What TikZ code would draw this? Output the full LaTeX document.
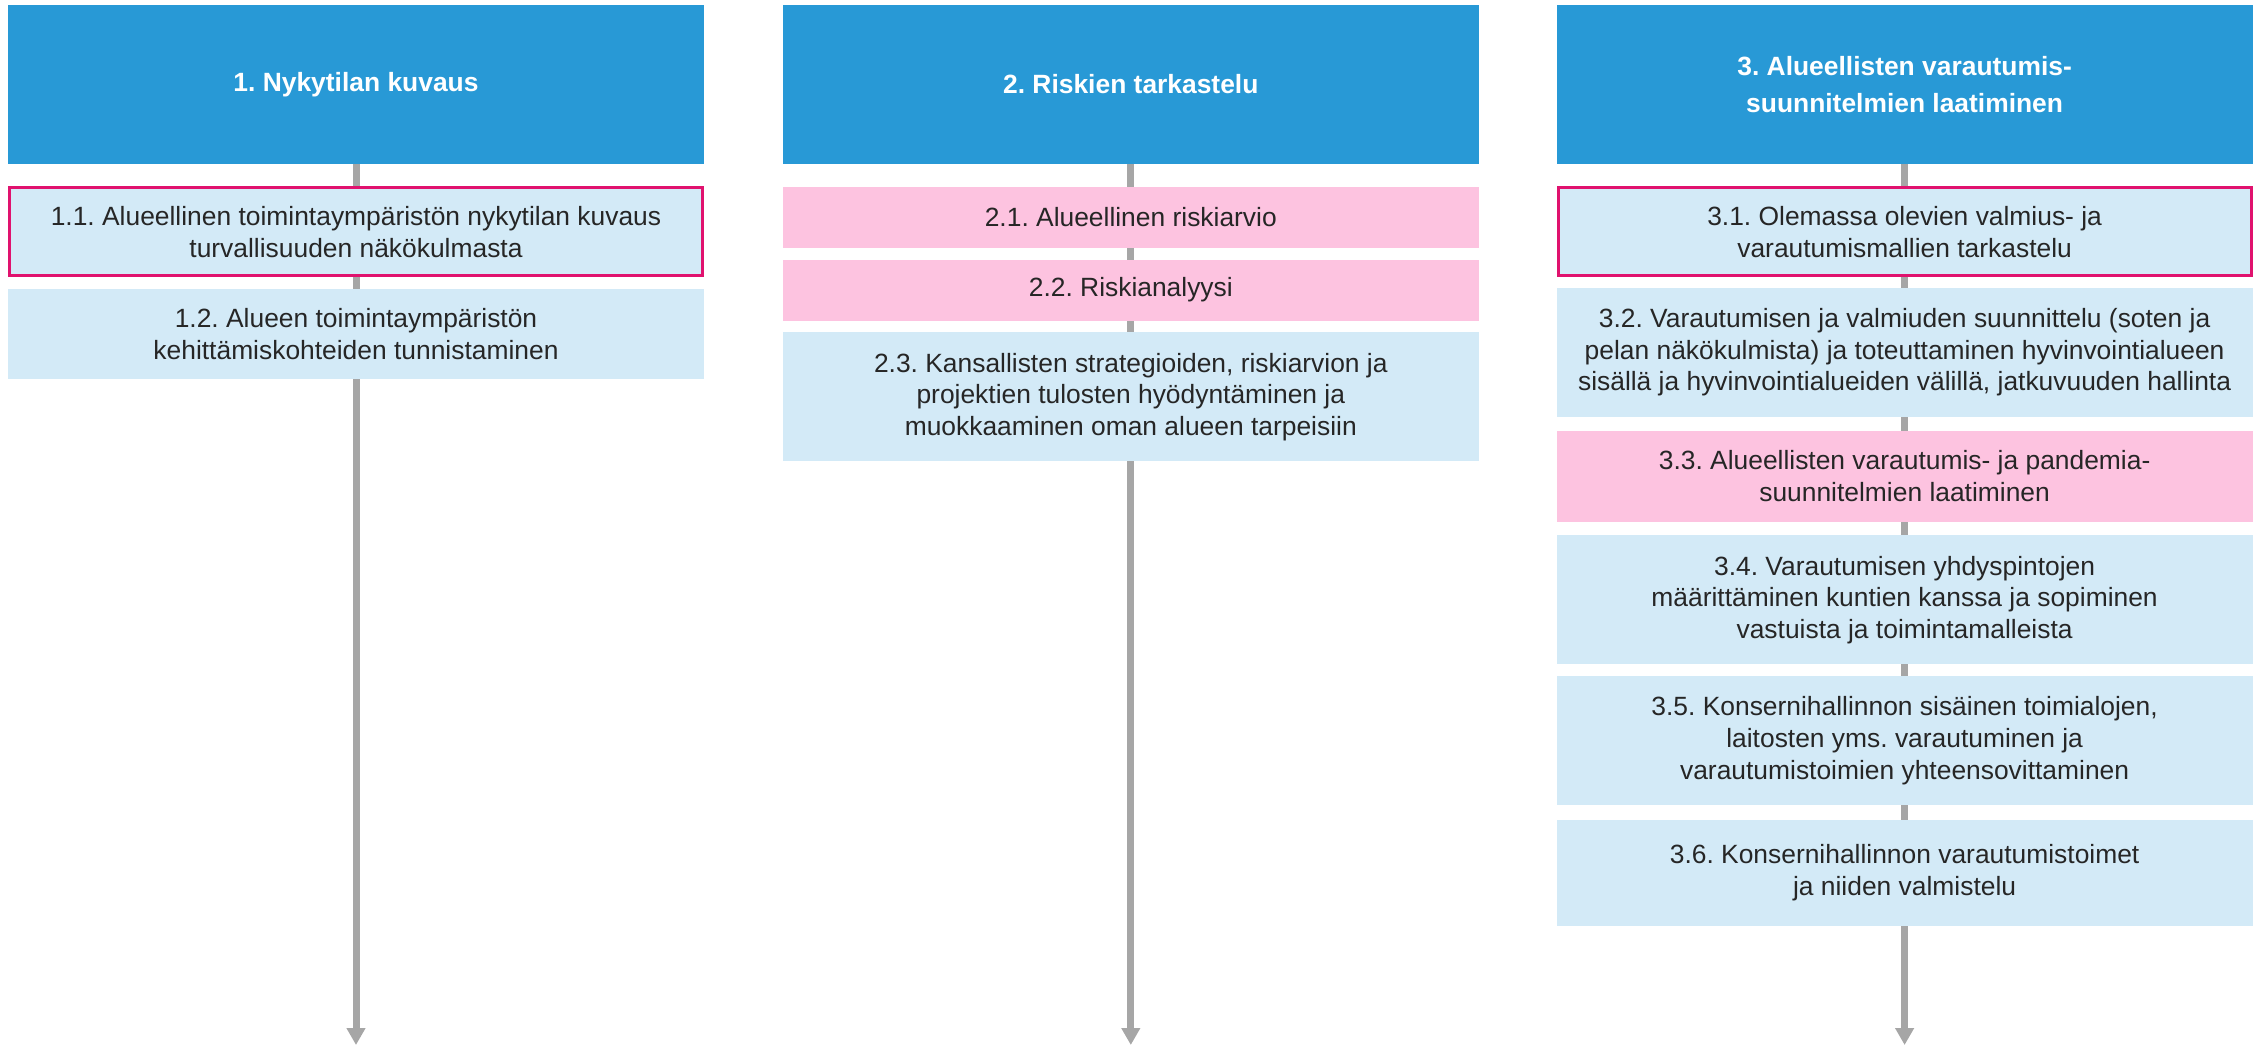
\documentclass[tikz,border=0pt]{standalone}
\usepackage{fontspec}
\setmainfont{Liberation Sans}
\frenchspacing
\usetikzlibrary{positioning,arrows.meta,backgrounds}
\definecolor{headblue}{HTML}{2899D6}
\definecolor{stepblue}{HTML}{D3EAF7}
\definecolor{steppink}{HTML}{FDC3E0}
\definecolor{edgepink}{HTML}{E0126E}
\definecolor{flowgray}{HTML}{A6A6A6}
\definecolor{textgray}{HTML}{262626}

\begin{document}
\begin{tikzpicture}[
    x=0.5pt, y=-0.5pt,
    headnode/.style={rectangle, fill=headblue, text=white, minimum width=348pt, minimum height=79.5pt, inner sep=0pt, align=center, font=\fontsize{13.2}{18.3}\selectfont\bfseries},
    boxnode/.style={rectangle, fill=stepblue, text=textgray, minimum width=348pt, inner sep=0pt, align=center, font=\fontsize{13.2}{15.85}\selectfont},
    pinknode/.style={boxnode, fill=steppink},
    marknode/.style={boxnode, draw=edgepink, line width=1.5pt, minimum width=346.5pt},
    flow/.style={-{Triangle[width=9pt,length=8.5pt]}, draw=flowgray, line width=3.5pt}
    ]
        \useasboundingbox (0,0) rectangle (2254,1045);

        %Headers
        \node[headnode]
            (h1)    at (356,84.5)       {1. Nykytilan kuvaus};
        \node[headnode]
            (h2)    [right=39pt of h1]  {2. Riskien tarkastelu};
        \node[headnode]
            (h3)    [right=38.5pt of h2] {3. Alueellisten varautumis-\\suunnitelmien laatiminen};

        %Column 1
        \node[marknode, minimum height=44pt]
            (b11)   [below=11pt of h1]  {1.1. Alueellinen toimintaympäristön nykytilan kuvaus\\turvallisuuden näkökulmasta};
        \node[boxnode, minimum height=45pt]
            (b12)   [below=5.5pt of b11] {1.2. Alueen toimintaympäristön\\kehittämiskohteiden tunnistaminen};

        %Column 2
        \node[pinknode, minimum height=30.5pt]
            (b21)   [below=11pt of h2]  {2.1. Alueellinen riskiarvio};
        \node[pinknode, minimum height=30.5pt]
            (b22)   [below=5.5pt of b21] {2.2. Riskianalyysi};
        \node[boxnode, minimum height=64.5pt]
            (b23)   [below=5.5pt of b22] {2.3. Kansallisten strategioiden, riskiarvion ja\\projektien tulosten hyödyntäminen ja\\muokkaaminen oman alueen tarpeisiin};

        %Column 3
        \node[marknode, minimum height=44pt]
            (b31)   [below=11pt of h3]  {3.1. Olemassa olevien valmius- ja\\varautumismallien tarkastelu};
        \node[boxnode, minimum height=64.5pt]
            (b32)   [below=5pt of b31]  {3.2. Varautumisen ja valmiuden suunnittelu (soten ja\\pelan näkökulmista) ja toteuttaminen hyvinvointialueen\\sisällä ja hyvinvointialueiden välillä, jatkuvuuden hallinta};
        \node[pinknode, minimum height=45.5pt]
            (b33)   [below=6.5pt of b32] {3.3. Alueellisten varautumis- ja pandemia-\\suunnitelmien laatiminen};
        \node[boxnode, minimum height=64.5pt]
            (b34)   [below=6.5pt of b33] {3.4. Varautumisen yhdyspintojen\\määrittäminen kuntien kanssa ja sopiminen\\vastuista ja toimintamalleista};
        \node[boxnode, minimum height=64.5pt]
            (b35)   [below=5.5pt of b34] {3.5. Konsernihallinnon sisäinen toimialojen,\\laitosten yms. varautuminen ja\\varautumistoimien yhteensovittaminen};
        \node[boxnode, minimum height=53pt]
            (b36)   [below=7pt of b35]  {3.6. Konsernihallinnon varautumistoimet\\ja niiden valmistelu};

        %Arrow ends
        \coordinate (e1) at (h1.south |- 0,1045);
        \coordinate (e2) at (h2.south |- 0,1045);
        \coordinate (e3) at (h3.south |- 0,1045);

        %Lines
        \begin{scope}[on background layer]
        \draw[flow] (h1.south) -- (e1);
        \draw[flow] (h2.south) -- (e2);
        \draw[flow] (h3.south) -- (e3);
        \end{scope}
    \end{tikzpicture}
\end{document}
